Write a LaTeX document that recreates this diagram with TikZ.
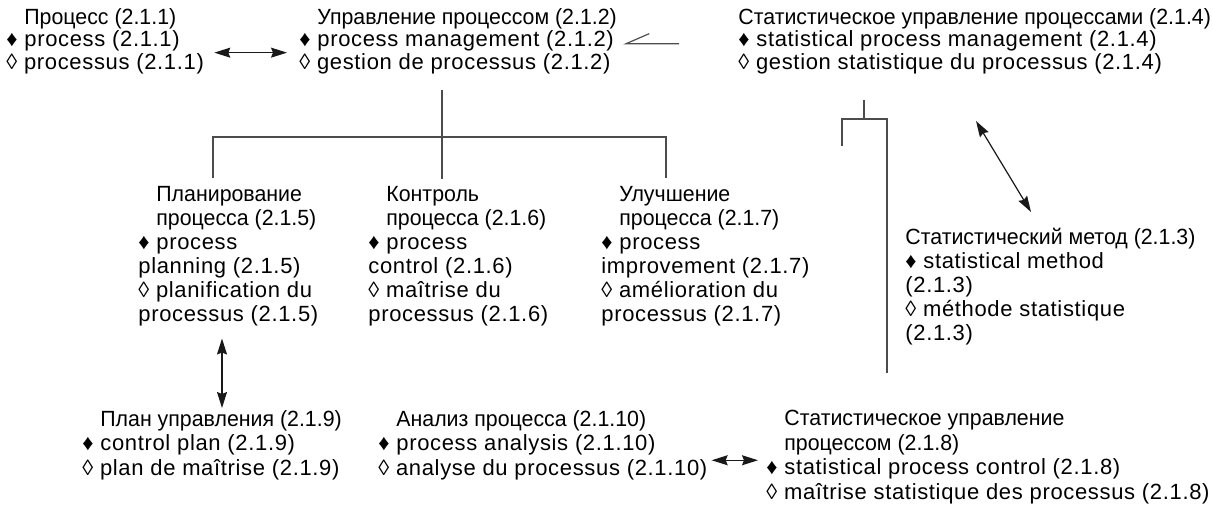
\documentclass[tikz,border=0pt]{standalone}
\usepackage{fontspec}
\setmainfont{Liberation Sans}
\newfontfamily\latfont[LetterSpace=3]{Liberation Sans}
\newfontfamily\cyrfont[FakeStretch=0.97]{Liberation Sans}
\usetikzlibrary{arrows.meta,positioning,calc}
\newcommand{\tind}{\hphantom{♦\ }}
\newcommand{\rutitle}[1]{{\cyrfont #1}}
\tikzset{
  term/.style={
    anchor=north west,inner sep=0pt,align=left,
    font=\latfont\fontsize{11}{12}\selectfont
  },
  topterm/.style={term,font=\latfont\fontsize{11}{11.25}\selectfont},
  botterm/.style={term,font=\latfont\fontsize{11}{12.3}\selectfont},
  biarrow/.style={
    {Stealth[length=8pt,width=5pt,inset=1pt]}-{Stealth[length=8pt,width=5pt,inset=1pt]},
    line width=0.6pt,draw=black!90
  },
  tree/.style={line width=0.6pt,draw=black!70}
}

\begin{document}
\begin{tikzpicture}[x=0.5pt,y=-0.5pt]
  \useasboundingbox (0,0) rectangle (1213,519);
  % top row
  \node[topterm] (proc) at (6,8)
    {\tind\rutitle{Процесс (2.1.1)}\\♦ process (2.1.1)\\◊ processus (2.1.1)};
  \node[topterm] (mgmt) at (299,8)
    {\tind\rutitle{Управление процессом (2.1.2)}\\♦ process management (2.1.2)\\◊ gestion de processus (2.1.2)};
  \node[topterm] (spm) at (738,8)
    {\rutitle{Статистическое управление процессами (2.1.4)}\\♦ statistical process management (2.1.4)\\◊ gestion statistique du processus (2.1.4)};
  % middle row
  \node[term] (plan5) at (138,186)
    {\tind\rutitle{Планирование}\\\tind\rutitle{процесса (2.1.5)}\\♦ process\\planning (2.1.5)\\◊ planification du\\processus (2.1.5)};
  \node[term] (ctrl6) at (368,186)
    {\tind\rutitle{Контроль}\\\tind\rutitle{процесса (2.1.6)}\\♦ process\\control (2.1.6)\\◊ maîtrise du\\processus (2.1.6)};
  \node[term] (impr7) at (601,186)
    {\tind\rutitle{Улучшение}\\\tind\rutitle{процесса (2.1.7)}\\♦ process\\improvement (2.1.7)\\◊ amélioration du\\processus (2.1.7)};
  \node[term] (stm3) at (905,228)
    {\rutitle{Статистический метод (2.1.3)}\\♦ statistical method\\(2.1.3)\\◊ méthode statistique\\(2.1.3)};
  % bottom row
  \node[botterm] (cplan9) at (82,410)
    {\tind\rutitle{План управления (2.1.9)}\\♦ control plan (2.1.9)\\◊ plan de maîtrise (2.1.9)};
  \node[botterm] (ana10) at (378,410)
    {\tind\rutitle{Анализ процесса (2.1.10)}\\♦ process analysis (2.1.10)\\◊ analyse du processus (2.1.10)};
  \node[botterm] (spc8) at (766,410)
    {\tind\rutitle{Статистическое управление}\\\tind\rutitle{процессом (2.1.8)}\\♦ statistical process control (2.1.8)\\◊ maîtrise statistique des processus (2.1.8)};

  % associative relations
  \draw[biarrow,shorten <=5pt,shorten >=6pt]
    ([yshift=-5.75pt]proc.east) -- ([yshift=-5.75pt]proc.east -| mgmt.west);
  \coordinate (pcx) at (222,0);
  \draw[biarrow] ([yshift=-6pt]plan5.south -| pcx) -- ([yshift=1pt]cplan9.north -| pcx);
  \draw[biarrow] ([xshift=2pt,yshift=-7.5pt]ana10.east)
    -- ([xshift=-4pt,yshift=-7.5pt]ana10.east -| spc8.west);
  \coordinate (spmarr) at (976,121);
  \coordinate (stmarr) at (1031,212);
  \draw[biarrow] (spmarr) -- (stmarr);

  % partitive mark
  \coordinate (rel) at ([xshift=4.5pt,yshift=-1.25pt]mgmt.east);
  \coordinate[right=26.5pt of rel] (relend);
  \coordinate (relslash) at ([shift={(11.5pt,5pt)}]rel);
  \draw[tree] (relend) -- (rel) -- (relslash);

  % generic trees
  \coordinate (mtop) at (442,90);
  \coordinate (mfork) at (442,137);
  \coordinate (mbot) at (442,179);
  \coordinate (mleft) at (213,178);
  \coordinate (mright) at (666,178);
  \draw[tree] (mtop) -- (mbot);
  \draw[tree] (mleft) |- (mfork) -| (mright);
  \coordinate (stop) at (864,100);
  \coordinate (sfork) at (864,119);
  \coordinate (sleft) at (842,146);
  \coordinate (sright) at (887,373);
  \draw[tree] (stop) -- (sfork);
  \draw[tree] (sleft) |- (sfork) -| (sright);
\end{tikzpicture}
\end{document}
